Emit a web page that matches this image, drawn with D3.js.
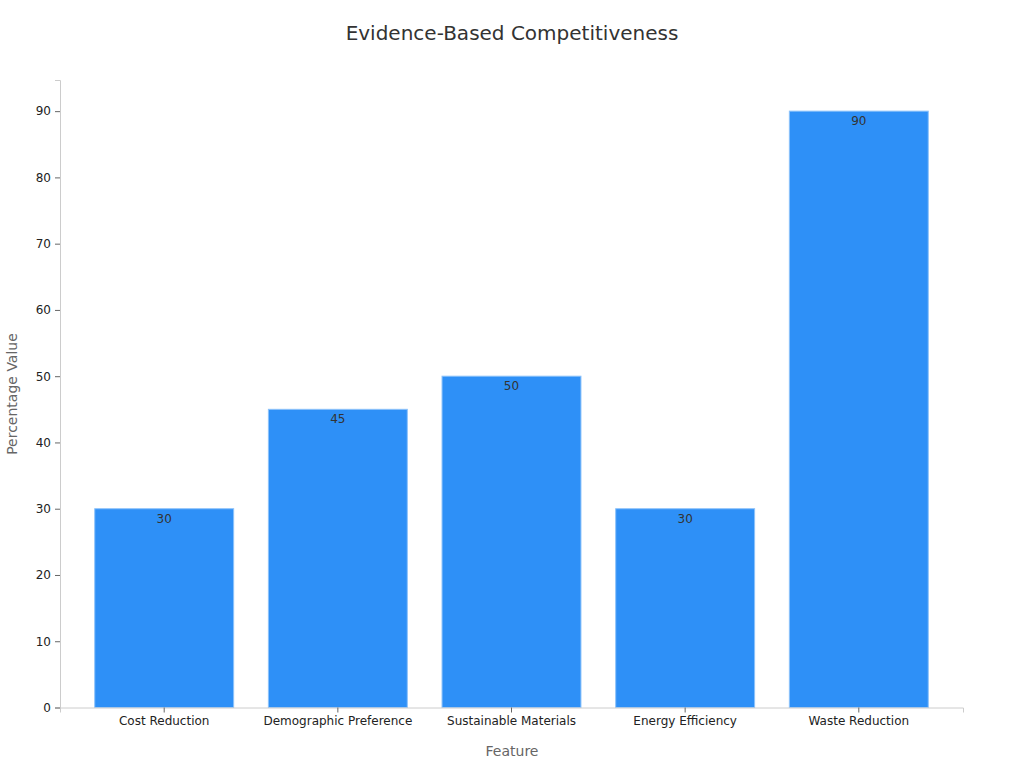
<!DOCTYPE html><html><head><meta charset="utf-8">
<script src="https://cdn.jsdelivr.net/npm/d3@7"></script>
<style>body{margin:0;background:#fff;font-family:"DejaVu Sans",sans-serif}</style></head><body>
<svg id="c" width="1024" height="768"></svg>
<script>
const categories=["Cost Reduction","Demographic Preference","Sustainable Materials","Energy Efficiency","Waste Reduction"];
const values=[30,45,50,30,90];
const yTicks=[0,10,20,30,40,50,60,70,80,90];
const svg=d3.select("#c");
const L=60,R=963,T=80,B=707.5;
const x=d3.scaleBand().domain(categories).range([L,R]).padding(0.2);
const y=d3.scaleLinear().domain([0,94.7]).range([B,T]);
svg.append("text").attr("x",512).attr("y",40).attr("text-anchor","middle").attr("font-size",20).attr("fill","#333").text("Evidence-Based Competitiveness");
svg.selectAll("rect.b").data(values).join("rect").attr("x",(d,i)=>x(categories[i])).attr("width",x.bandwidth())
 .attr("y",d=>y(d)).attr("height",d=>B-y(d)).attr("fill","#2e90f7").attr("stroke","#8cc2fa").attr("stroke-width",1);
svg.selectAll("text.v").data(values).join("text").attr("x",(d,i)=>x(categories[i])+x.bandwidth()/2).attr("y",d=>y(d)+14)
 .attr("text-anchor","middle").attr("font-size",12).attr("fill","#333").text(d=>d);
const ya=svg.append("g").attr("transform",`translate(${L},0)`).call(d3.axisLeft(y).tickValues(yTicks).tickSize(5).tickPadding(4));
const xa=svg.append("g").attr("transform",`translate(0,${B})`).call(d3.axisBottom(x).tickSize(5).tickPadding(4));
[ya,xa].forEach(a=>{a.select(".domain").attr("stroke","#ccc");a.selectAll(".tick line").attr("stroke","#666");a.selectAll("text").attr("font-size",12).attr("fill","#222").attr("font-family","DejaVu Sans");});
svg.append("text").attr("x",512).attr("y",756).attr("text-anchor","middle").attr("font-size",14).attr("fill","#666").text("Feature");
svg.append("text").attr("transform","translate(17,394) rotate(-90)").attr("text-anchor","middle").attr("font-size",14).attr("fill","#666").text("Percentage Value");
</script></body></html>
